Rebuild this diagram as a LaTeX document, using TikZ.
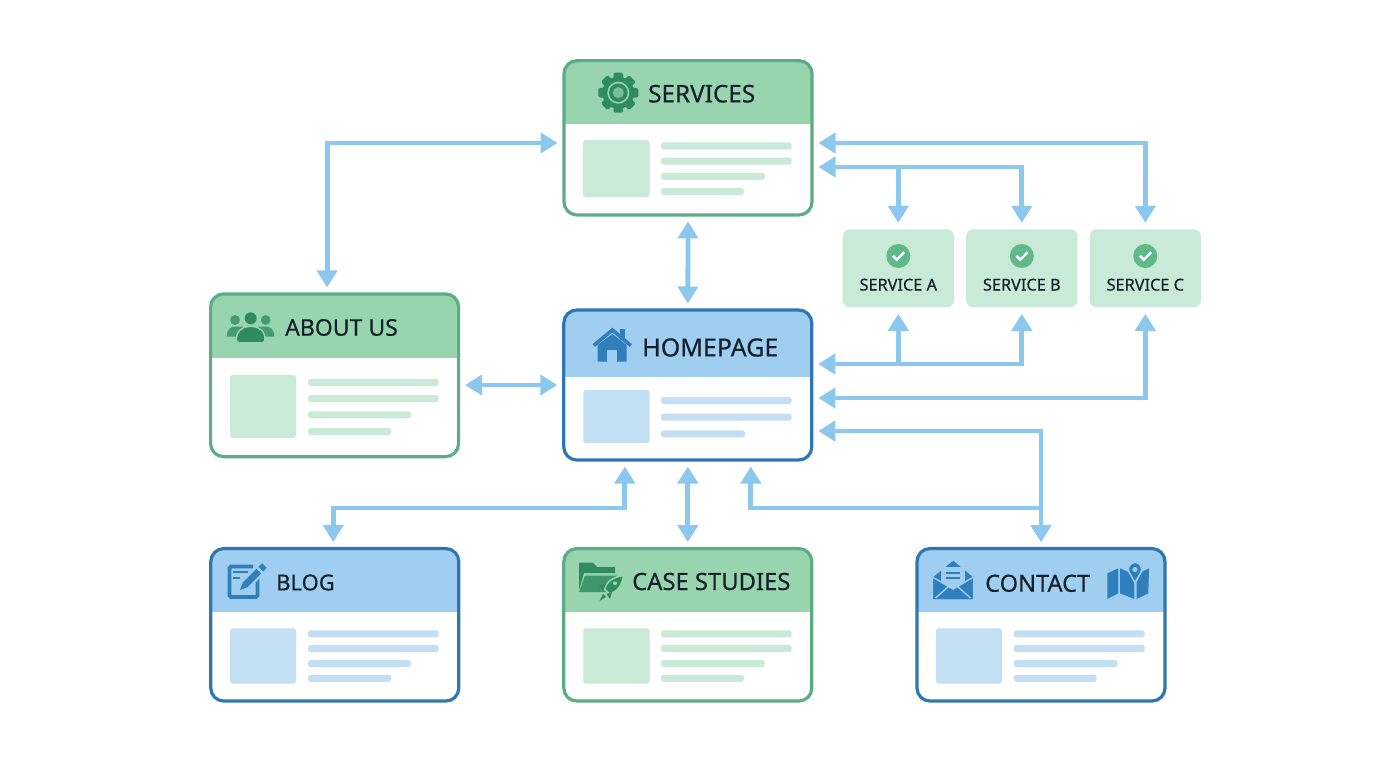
\documentclass[tikz,border=0pt]{standalone}
\usepackage{fontspec}
\setmainfont{Noto Sans}[FakeBold=0.35]
\usetikzlibrary{arrows.meta}

\definecolor{grnline}{HTML}{5BAD85}
\definecolor{grnhead}{HTML}{98D5AF}
\definecolor{grnpale}{HTML}{C8EAD7}
\definecolor{grnicon}{HTML}{2F8C5F}
\definecolor{bluline}{HTML}{2F77B0}
\definecolor{bluhead}{HTML}{9FCEF1}
\definecolor{blupale}{HTML}{C3DFF4}
\definecolor{bluicon}{HTML}{2F7FBD}
\definecolor{linkblue}{HTML}{8CC8EE}
\definecolor{checkgrn}{HTML}{5FB98A}
\definecolor{inktext}{HTML}{14202A}

\tikzset{
  pagecard/.style n args={4}{draw=#1, fill=white, line width=3.2pt, rounded corners=13pt, inner sep=0pt, outer sep=0pt,
    minimum width=248pt, minimum height=#3pt,
    path picture={\fill[#2, sharp corners] (path picture bounding box.north west) rectangle ([yshift=-#4pt]path picture bounding box.north east);}},
  pagetitle/.style={anchor=west, inner sep=0pt, text=inktext, font=\fontsize{#1}{#1}\selectfont},
  servicebox/.style={fill=grnpale, rounded corners=7pt, inner sep=0pt, outer sep=0pt, minimum width=111.3pt, minimum height=78pt},
  servicetitle/.style={inner sep=0pt, text=inktext, font=\fontsize{16.3}{18}\selectfont},
  checkdot/.style={circle, fill=checkgrn, inner sep=0pt, minimum size=24pt},
  bar/.style={rounded corners=2.5pt},
  link/.style={draw=linkblue, line width=4.8pt, shorten <=6.5pt, shorten >=6.5pt, <->, >={Triangle[length=17pt,width=20pt]}},
  branchlink/.style={draw=linkblue, line width=4.8pt, shorten >=6.5pt, ->, >={Triangle[length=17pt,width=20pt]}}
}

\begin{document}
\begin{tikzpicture}[x=1pt, y=-1pt]
\useasboundingbox (0,0) rectangle (1376,768);

\node[pagecard={grnline}{grnhead}{154.3}{63.3}] (services) at (688,137.8) {};
\node[pagecard={grnline}{grnhead}{162.7}{63.7}] (about) at (334.6,375.3) {};
\node[pagecard={bluline}{bluhead}{150}{67.3}] (home) at (687.8,385) {};
\node[pagecard={bluline}{bluhead}{152.5}{63.2}] (blog) at (334.8,624.8) {};
\node[pagecard={grnline}{grnhead}{152.5}{63.2}] (cases) at (687.8,624.8) {};
\node[pagecard={bluline}{bluhead}{152.5}{63.2}] (contact) at (1041,624.8) {};

\node[pagetitle=24.3] (serviceslabel) at (648,93.7) {SERVICES};
\node[pagetitle=23] (aboutlabel) at (285,327.5) {ABOUT US};
\node[pagetitle=25] (homelabel) at (642,347.5) {HOMEPAGE};
\node[pagetitle=22] (bloglabel) at (276,582.5) {BLOG};
\node[pagetitle=23.8] (caseslabel) at (632,581.5) {CASE STUDIES};
\node[pagetitle=23.6] (contactlabel) at (985,583.3) {CONTACT};

\fill[grnpale, bar] (583,140) rectangle (649.5,197);
\foreach \y/\e in {142.3/791.7, 157.5/791.7, 172.8/765, 188/744}
  \fill[grnpale, bar] (661,\y) rectangle (\e,{\y+7});
\fill[grnpale, bar] (230,375) rectangle (296,438);
\foreach \y/\e in {379/438.7, 395.2/438.7, 411.3/411, 428/391}
  \fill[grnpale, bar] (308,\y) rectangle (\e,{\y+7});
\fill[blupale, bar] (583.3,390) rectangle (649.5,443);
\foreach \y/\e in {397/791.7, 413.7/791.7, 430.3/745}
  \fill[blupale, bar] (661,\y) rectangle (\e,{\y+7});
\fill[blupale, bar] (230,628.3) rectangle (296,683.5);
\foreach \y/\e in {630.3/438.7, 645/438.7, 660/411, 674.8/391}
  \fill[blupale, bar] (308,\y) rectangle (\e,{\y+7});
\fill[grnpale, bar] (583.3,628.3) rectangle (649.5,683.5);
\foreach \y/\e in {630.3/791.7, 645/791.7, 660/764.7, 674.8/744}
  \fill[grnpale, bar] (661,\y) rectangle (\e,{\y+7});
\fill[blupale, bar] (936,628.3) rectangle (1002,683.5);
\foreach \y/\e in {630.3/1144.7, 645/1144.7, 660/1117.7, 674.8/1096.7}
  \fill[blupale, bar] (1013.7,\y) rectangle (\e,{\y+7});

\begin{scope}[shift={(618.3,92.7)}]
\foreach \a in {0,45,...,315}
  \fill[grnicon, rotate=\a, rounded corners=1.5pt] (-4.8,-20) rectangle (4.8,-11);
\fill[grnicon] (0,0) circle (16);
\fill[grnhead] (0,0) circle (11);
\fill[grnicon] (0,0) circle (9.3);
\fill[grnhead!70!grnicon] (0,0) circle (5.5);
\end{scope}

\fill[grnicon!80!grnhead] (235,320) circle (4.9) (265.7,320) circle (4.9);
\fill[grnicon!80!grnhead] (226.7,336.5) .. controls (226.7,329) and (231,326.5) .. (235.5,326.5) -- (243,326.5) -- (243,336.5) -- cycle;
\fill[grnicon!80!grnhead] (274.3,336.5) .. controls (274.3,329) and (270,326.5) .. (265.5,326.5) -- (258,326.5) -- (258,336.5) -- cycle;
\fill[grnicon] (250.7,318.3) circle (6);
\draw[grnhead, line width=1.4pt, fill=grnicon, rounded corners=2pt] (236.7,342.8) .. controls (235.5,331) and (243,326.5) .. (250.7,326.5) .. controls (258.5,326.5) and (266,331) .. (264.7,342.8) -- cycle;

\fill[bluicon] (597.7,361.7) -- (597.7,345) -- (612.3,334) -- (626.7,345) -- (626.7,361.7) -- cycle;
\fill[bluhead] (607.3,361.8) rectangle (617.3,350);
\fill[bluicon] (620,328.5) rectangle (625,340);
\draw[bluicon, line width=3.6pt] (593.8,345.5) -- (612.3,330) -- (630.8,345.5);

\draw[bluicon, line width=3.6pt, rounded corners=1.5pt] (253,566.5) -- (229.5,566.5) -- (229.5,597) -- (257.5,597) -- (257.5,577);
\draw[bluicon, line width=2pt] (233.3,571.7) -- (248.3,571.7) (233.3,577.7) -- (240,577.7);
\draw[bluhead, line width=11pt] (245,585) -- (261,569);
\draw[bluicon, line width=6.5pt] (245,585) -- (258.8,571.2);
\draw[bluicon, line width=6.5pt] (260.8,569.2) -- (264.5,565.5);
\fill[bluicon] (240,590) -- (242.7,582.7) -- (247.3,587.3) -- cycle;

\fill[grnicon] (579,562.7) -- (593,562.7) -- (597,567) -- (615,567) -- (615,573) -- (584,573) -- (579,590) -- cycle;
\fill[grnicon!85!grnhead] (585,575.5) -- (617,575.5) -- (608,592) -- (579,592) -- cycle;
\draw[grnhead, line width=1.5pt, fill=grnicon] (623.5,575.5) .. controls (612,577) and (606,583) .. (604.5,589) -- (609.5,594) .. controls (616,592) and (622,587) .. (623.5,575.5) -- cycle;
\fill[grnicon] (606,584) -- (599,585.5) -- (603,590) -- cycle;
\fill[grnicon] (612,592) -- (610,599) -- (606.5,594) -- cycle;
\fill[grnicon] (603,594) -- (599.5,601) -- (606,597) -- cycle;
\fill[grnhead] (615,583.3) circle (2);

\fill[bluicon] (933.3,577) -- (953.3,560.7) -- (972.7,577) -- (972.7,599) -- (933.3,599) -- cycle;
\fill[bluhead] (941,566.7) rectangle (965,590);
\draw[bluicon, line width=2pt] (945.7,573.3) -- (960,573.3) (945.7,577.7) -- (960,577.7);
\fill[bluicon] (933.3,578) -- (953,589.5) -- (972.7,578) -- (972.7,599) -- (933.3,599) -- cycle;
\draw[bluhead, line width=1.4pt] (933.3,577.5) -- (953,589) -- (972.7,577.5) (935.5,598) -- (948.5,586.5) (970.5,598) -- (957.5,586.5);

\fill[bluicon] (1107.3,573.3) -- (1118.3,568.3) -- (1118.3,593.3) -- (1107.3,599) -- cycle;
\fill[bluicon] (1120,568.3) -- (1129,572.3) -- (1134.3,582) -- (1134.3,599) -- (1120,593.3) -- cycle;
\fill[bluicon] (1136.7,599) -- (1148.3,593.3) -- (1149,568.3) -- (1142.3,571.7) -- (1136.7,582) -- cycle;
\draw[bluhead, line width=1.4pt, fill=bluicon] (1135,582.5) -- (1129.3,572.5) arc[start angle=150, end angle=390, radius=6.6] -- cycle;
\fill[bluhead] (1135,569.5) circle (2.6);

\node[servicebox] (servicea) at (898.3,268.3) {};
\node[servicebox] (serviceb) at (1021.8,268.3) {};
\node[servicebox] (servicec) at (1145.3,268.3) {};
\node[checkdot] (checka) at (898.3,256) {};
\node[checkdot] (checkb) at (1021.8,256) {};
\node[checkdot] (checkc) at (1145.3,256) {};
\draw[white, line width=2.4pt] ([shift={(-5.5,-0.3)}]checka.center) -- ([shift={(-1.5,3.7)}]checka.center) -- ([shift={(5.8,-3.7)}]checka.center);
\draw[white, line width=2.4pt] ([shift={(-5.5,-0.3)}]checkb.center) -- ([shift={(-1.5,3.7)}]checkb.center) -- ([shift={(5.8,-3.7)}]checkb.center);
\draw[white, line width=2.4pt] ([shift={(-5.5,-0.3)}]checkc.center) -- ([shift={(-1.5,3.7)}]checkc.center) -- ([shift={(5.8,-3.7)}]checkc.center);
\node[servicetitle] (serviceatext) at (898.3,284.7) {SERVICE A};
\node[servicetitle] (servicebtext) at (1021.8,284.7) {SERVICE B};
\node[servicetitle] (servicectext) at (1145.3,284.7) {SERVICE C};

\coordinate (upperport) at ([yshift=-29.2pt]services.east);
\coordinate (lowerport) at ([yshift=21pt]home.east);

\draw[link] ([xshift=-7.5pt]about.north) |- ([yshift=-5.2pt]services.west);
\draw[link] ([yshift=-5.2pt]services.east) -| (servicec.north);
\draw[link] (upperport) -| (serviceb.north);
\draw[branchlink] (upperport -| servicea.north) -- (servicea.north);
\draw[link] (lowerport) -| (serviceb.south);
\draw[branchlink] (lowerport -| servicea.south) -- (servicea.south);
\draw[link] ([yshift=-13pt]home.east) -| (servicec.south);
\draw[link] ([yshift=-46pt]home.east) -| (contact.north);
\draw[link] (services.south) -- (home.north);
\draw[link] (about.east |- home.west) -- (home.west);
\draw[link] ([xshift=-63pt]home.south) -- ++(0,48) -| ([xshift=-1.5pt]blog.north);
\draw[link] (home.south) -- (cases.north);
\draw[link] ([xshift=63pt]home.south) -- ++(0,48) -| (contact.north);

\end{tikzpicture}
\end{document}
